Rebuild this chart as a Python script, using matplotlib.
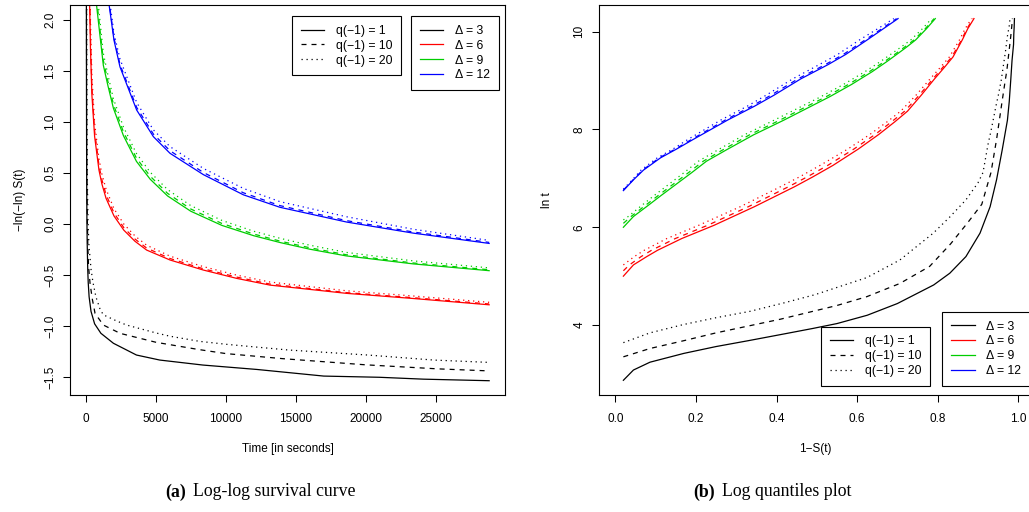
import matplotlib
matplotlib.use("Agg")
import matplotlib.pyplot as plt
import numpy as np
from matplotlib.lines import Line2D

W, H = 1029, 512
plt.rcParams["font.family"] = ["Liberation Sans", "DejaVu Sans"]

# survival curves: log time and survival probability S(t)
# Delta = 3
logt_d3_q1 = [2.87, 3.08, 3.24, 3.42, 3.56, 3.68, 3.82, 3.93, 4.03, 4.20, 4.44, 4.82, 5.06,
              5.40, 5.88, 6.42, 6.97, 7.58, 8.19, 8.57, 9.03, 9.41, 9.74, 9.95, 10.09, 10.268]
surv_d3_q1 = [0.98, 0.955, 0.914, 0.83, 0.75, 0.67, 0.58, 0.51, 0.45, 0.375, 0.30, 0.21, 0.17,
              0.13, 0.095, 0.070, 0.054, 0.040, 0.027, 0.0225, 0.0186, 0.0156, 0.0118, 0.0112, 0.0103, 0.0096]
logt_d3_q10 = [3.35, 3.52, 3.68, 3.84, 3.98, 4.12, 4.26, 4.40, 4.58, 4.85, 5.20, 5.66, 6.10,
               6.47, 7.12, 7.80, 8.52, 8.99, 9.21, 9.55, 9.90, 10.13, 10.268]
surv_d3_q10 = [0.98, 0.914, 0.83, 0.75, 0.67, 0.59, 0.52, 0.45, 0.376, 0.294, 0.22, 0.168, 0.125,
               0.0906, 0.0678, 0.0539, 0.0412, 0.0327, 0.0284, 0.0237, 0.0188, 0.0160, 0.0147]
logt_d3_q20 = [3.64, 3.84, 4.01, 4.15, 4.28, 4.45, 4.62, 4.97, 5.33, 5.88, 6.21, 6.56, 6.91,
               7.12, 7.69, 7.97, 8.53, 8.70, 9.00, 9.22, 9.58, 9.91, 10.12, 10.268]
surv_d3_q20 = [0.98, 0.914, 0.831, 0.75, 0.666, 0.583, 0.505, 0.376, 0.294, 0.211, 0.17, 0.13, 0.10,
               0.0876, 0.0753, 0.0678, 0.0542, 0.0496, 0.0425, 0.0386, 0.0321, 0.027, 0.0225, 0.0206]

# Delta = 6
logt_d6_q1 = [5.00, 5.23, 5.40, 5.53, 5.77, 6.04, 6.42, 6.83, 7.03, 7.265, 7.60, 7.90, 8.16,
              8.374, 8.70, 9.034, 9.284, 9.484, 9.832, 10.06, 10.268]
surv_d6_q1 = [0.98, 0.955, 0.922, 0.895, 0.835, 0.755, 0.655, 0.555, 0.51, 0.46, 0.397, 0.346, 0.306,
              0.275, 0.241, 0.208, 0.182, 0.162, 0.139, 0.1255, 0.110]
logt_d6_q10 = [5.11, 5.23, 5.40, 5.53, 5.77, 6.04, 6.42, 6.83, 7.03, 7.265, 7.60, 7.90, 8.16,
               8.374, 8.70, 9.034, 9.284, 9.484, 9.832, 10.06, 10.268]
surv_d6_q10 = [0.98, 0.965, 0.936, 0.91, 0.851, 0.771, 0.67, 0.57, 0.524, 0.473, 0.408, 0.355, 0.314,
               0.282, 0.246, 0.212, 0.186, 0.165, 0.141, 0.1275, 0.112]
logt_d6_q20 = [5.23, 5.40, 5.53, 5.77, 6.04, 6.42, 6.83, 7.03, 7.265, 7.60, 7.90, 8.16,
               8.374, 8.70, 9.034, 9.284, 9.484, 9.832, 10.06, 10.268]
surv_d6_q20 = [0.98, 0.953, 0.928, 0.872, 0.793, 0.69, 0.59, 0.543, 0.492, 0.423, 0.368, 0.325,
               0.292, 0.254, 0.219, 0.192, 0.171, 0.146, 0.132, 0.116]

# Delta = 9
logt_d9_q1 = [6.00, 6.22, 6.45, 6.64, 7.12, 7.35, 7.58, 7.89, 8.19, 8.43, 8.67, 8.92, 9.18, 9.39,
              9.54, 9.68, 9.83, 10.06, 10.268]
surv_d9_q1 = [0.98, 0.955, 0.918, 0.888, 0.81, 0.774, 0.725, 0.657, 0.582, 0.525, 0.468, 0.414, 0.363, 0.326,
              0.301, 0.278, 0.255, 0.228, 0.206]
logt_d9_q10 = [6.08, 6.22, 6.45, 6.64, 7.12, 7.35, 7.58, 7.89, 8.19, 8.43, 8.67, 8.92, 9.18, 9.39,
               9.54, 9.68, 9.83, 10.06, 10.268]
surv_d9_q10 = [0.98, 0.961, 0.925, 0.895, 0.818, 0.782, 0.734, 0.667, 0.592, 0.535, 0.477, 0.422, 0.37, 0.332,
               0.306, 0.283, 0.259, 0.231, 0.209]
logt_d9_q20 = [6.15, 6.22, 6.45, 6.64, 7.12, 7.35, 7.58, 7.89, 8.19, 8.43, 8.67, 8.92, 9.18, 9.39,
               9.54, 9.68, 9.83, 10.06, 10.268]
surv_d9_q20 = [0.98, 0.968, 0.934, 0.905, 0.829, 0.794, 0.746, 0.68, 0.606, 0.548, 0.49, 0.434, 0.381, 0.342,
               0.316, 0.292, 0.267, 0.238, 0.215]

# Delta = 12
logt_d12_q1 = [6.75, 6.97, 7.17, 7.419, 7.60, 7.795, 8.194, 8.479, 8.70, 9.034, 9.327, 9.536, 9.832, 10.06, 10.268]
surv_d12_q1 = [0.98, 0.955, 0.93, 0.888, 0.848, 0.807, 0.721, 0.654, 0.6065, 0.54, 0.472, 0.428, 0.375, 0.335, 0.2984]
logt_d12_q10 = [6.76, 6.97, 7.17, 7.419, 7.60, 7.795, 8.194, 8.479, 8.70, 9.034, 9.327, 9.536, 9.832, 10.06, 10.268]
surv_d12_q10 = [0.98, 0.956, 0.932, 0.891, 0.851, 0.811, 0.727, 0.661, 0.614, 0.547, 0.479, 0.434, 0.38, 0.339, 0.302]
logt_d12_q20 = [6.78, 6.97, 7.17, 7.419, 7.60, 7.795, 8.194, 8.479, 8.70, 9.034, 9.327, 9.536, 9.832, 10.06, 10.268]
surv_d12_q20 = [0.98, 0.958, 0.936, 0.896, 0.857, 0.82, 0.738, 0.672, 0.626, 0.56, 0.494, 0.448, 0.394, 0.349, 0.309]

q_labels = ["q(\u22121) = 1", "q(\u22121) = 10", "q(\u22121) = 20"]
delta_labels = ["\u0394 = 3", "\u0394 = 6", "\u0394 = 9", "\u0394 = 12"]
colors = ["black", "#FF0000", "#00CD00", "#0000FF"]
styles = ["-", (0, (4, 4)), (0, (1, 3))]

curves = [
    [(logt_d3_q1, surv_d3_q1), (logt_d3_q10, surv_d3_q10), (logt_d3_q20, surv_d3_q20)],
    [(logt_d6_q1, surv_d6_q1), (logt_d6_q10, surv_d6_q10), (logt_d6_q20, surv_d6_q20)],
    [(logt_d9_q1, surv_d9_q1), (logt_d9_q10, surv_d9_q10), (logt_d9_q20, surv_d9_q20)],
    [(logt_d12_q1, surv_d12_q1), (logt_d12_q10, surv_d12_q10), (logt_d12_q20, surv_d12_q20)],
]

LW = 0.9
FS = 8.5
LEG_FS = 8.8


def fx(px):
    return px / W


def fy(py):
    return 1 - py / H


def style_axes(ax):
    for spine in ax.spines.values():
        spine.set_linewidth(0.8)
    ax.tick_params(direction="out", length=5, width=0.75, labelsize=FS)
    ax.tick_params(axis="x", pad=8)
    ax.tick_params(axis="y", pad=5)
    for lab in ax.get_yticklabels():
        lab.set_rotation(90)
        lab.set_va("center")


def add_legends(ax, q_anchor, d_anchor, loc):
    q_handles = [Line2D([], [], color="black", linestyle=s, lw=LW) for s in styles]
    d_handles = [Line2D([], [], color=c, linestyle="-", lw=LW) for c in colors]
    opts = dict(loc=loc, fontsize=LEG_FS, frameon=True, fancybox=False, framealpha=1,
                edgecolor="black", borderaxespad=0, handlelength=1.95, handletextpad=0.95,
                borderpad=0.73, labelspacing=0.23, bbox_transform=ax.figure.transFigure)
    leg1 = ax.legend(q_handles, q_labels, bbox_to_anchor=q_anchor, **opts)
    leg1.get_frame().set_linewidth(0.8)
    ax.add_artist(leg1)
    leg2 = ax.legend(d_handles, delta_labels, bbox_to_anchor=d_anchor, **opts)
    leg2.get_frame().set_linewidth(0.8)


fig = plt.figure(figsize=(W / 100, H / 100), dpi=100)
ax1 = fig.add_axes([fx(70), fy(395), fx(435), 390 / H])
ax2 = fig.add_axes([fx(599.2), fy(395), fx(431.2), 390 / H])

for group, color in zip(curves, colors):
    for (logt, surv), style in zip(group, styles):
        logt = np.asarray(logt)
        surv = np.asarray(surv)
        ax1.plot(np.exp(logt), -np.log(-np.log(surv)), color=color, linestyle=style, lw=LW)
        ax2.plot(1 - surv, logt, color=color, linestyle=style, lw=LW)

ax1.set_xlim(-1143, 29929)
ax1.set_ylim(-1.676, 2.147)
ax1.set_xticks([0, 5000, 10000, 15000, 20000, 25000])
ax1.set_yticks([-1.5, -1.0, -0.5, 0.0, 0.5, 1.0, 1.5, 2.0])
ax1.set_yticklabels(["\u22121.5", "\u22121.0", "\u22120.5", "0.0", "0.5", "1.0", "1.5", "2.0"])
style_axes(ax1)

ax2.set_xlim(-0.04, 1.03)
ax2.set_ylim(2.569, 10.546)
ax2.set_xticks([0.0, 0.2, 0.4, 0.6, 0.8, 1.0])
ax2.set_xticklabels(["0.0", "0.2", "0.4", "0.6", "0.8", "1.0"])
ax2.set_yticks([4, 6, 8, 10])
style_axes(ax2)

add_legends(ax1, (fx(291.7), fy(16)), (fx(410.7), fy(16)), "upper left")
add_legends(ax2, (fx(820.7), fy(386)), (fx(942), fy(386)), "lower left")

fig.text(fx(20), fy(200), "\u2212ln(\u2212ln) S(t)", rotation=90, ha="center", va="center", fontsize=FS)
fig.text(fx(287.5), fy(449), "Time [in seconds]", ha="center", va="center", fontsize=FS)
fig.text(fx(547), fy(200), "ln t", rotation=90, ha="center", va="center", fontsize=FS)
fig.text(fx(815), fy(449), "1\u2212S(t)", ha="center", va="center", fontsize=FS)

serif = ["Liberation Serif", "DejaVu Serif"]
fig.text(fx(165), fy(492), "(a)", fontweight="bold", family=serif, ha="left", va="center", fontsize=12.8)
fig.text(fx(193), fy(492), "Log-log survival curve", family=serif, ha="left", va="center", fontsize=12.8)
fig.text(fx(693), fy(492), "(b)", fontweight="bold", family=serif, ha="left", va="center", fontsize=12.8)
fig.text(fx(722), fy(492), "Log quantiles plot", family=serif, ha="left", va="center", fontsize=12.8)

fig.savefig("out.png", dpi=100)
